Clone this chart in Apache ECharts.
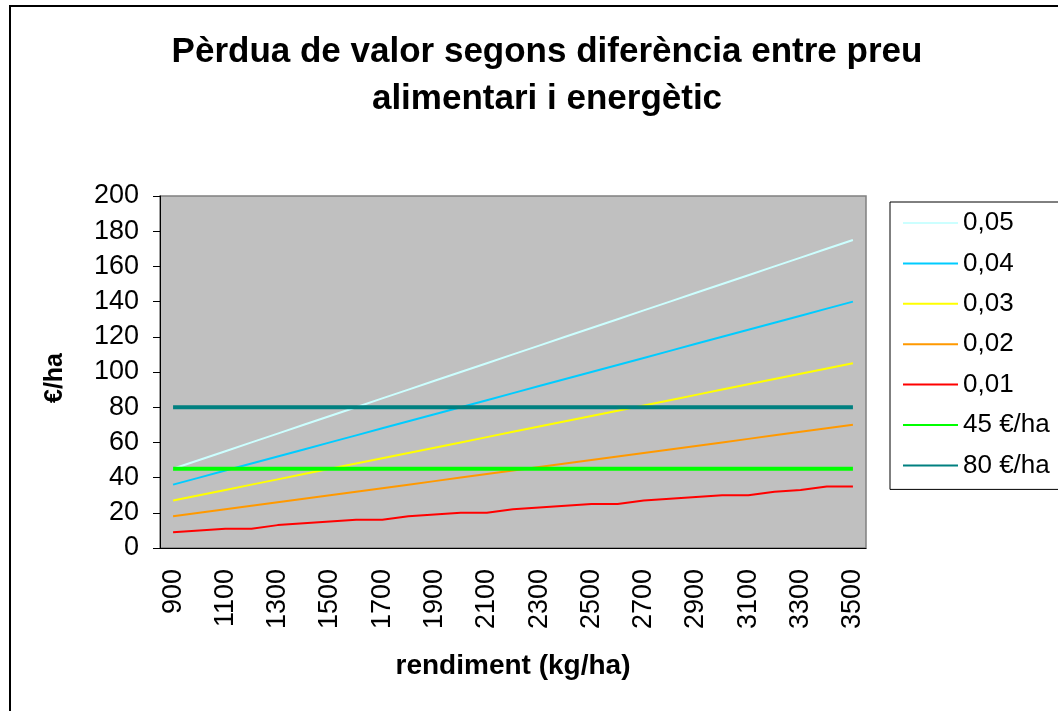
<!DOCTYPE html>
<html>
<head>
<meta charset="utf-8">
<script src="https://cdn.jsdelivr.net/npm/echarts@6/dist/echarts.min.js"></script>
<style>
  html, body { margin: 0; padding: 0; background: #fff; }
  #chart { width: 1058px; height: 711px; }
</style>
</head>
<body>
<div id="chart"></div>
<script>
// rendiment (kg/ha)
var yields = ['900', '1000', '1100', '1200', '1300', '1400', '1500', '1600', '1700', '1800',
  '1900', '2000', '2100', '2200', '2300', '2400', '2500', '2600', '2700', '2800',
  '2900', '3000', '3100', '3200', '3300', '3400', '3500'];

// pèrdua (€/ha) per diferència de preu
var d005 = [45, 50, 55, 60, 65, 70, 75, 80, 85, 90, 95, 100, 105, 110, 115, 120, 125, 130, 135, 140, 145, 150, 155, 160, 165, 170, 175];
var d004 = [36, 40, 44, 48, 52, 56, 60, 64, 68, 72, 76, 80, 84, 88, 92, 96, 100, 104, 108, 112, 116, 120, 124, 128, 132, 136, 140];
var d003 = [27, 30, 33, 36, 39, 42, 45, 48, 51, 54, 57, 60, 63, 66, 69, 72, 75, 78, 81, 84, 87, 90, 93, 96, 99, 102, 105];
var d002 = [18, 20, 22, 24, 26, 28, 30, 32, 34, 36, 38, 40, 42, 44, 46, 48, 50, 52, 54, 56, 58, 60, 62, 64, 66, 68, 70];
var d001 = [9, 10, 11, 11, 13, 14, 15, 16, 16, 18, 19, 20, 20, 22, 23, 24, 25, 25, 27, 28, 29, 30, 30, 32, 33, 35, 35];

// llindars
var ref45 = [45, 45, 45, 45, 45, 45, 45, 45, 45, 45, 45, 45, 45, 45, 45, 45, 45, 45, 45, 45, 45, 45, 45, 45, 45, 45, 45];
var ref80 = [80, 80, 80, 80, 80, 80, 80, 80, 80, 80, 80, 80, 80, 80, 80, 80, 80, 80, 80, 80, 80, 80, 80, 80, 80, 80, 80];

var FONT = '"Liberation Sans", Arial, sans-serif';

var chart = echarts.init(document.getElementById('chart'));

function lineSerie(name, data, color, width) {
  return {
    name: name,
    type: 'line',
    data: data,
    symbol: 'none',
    showSymbol: false,
    silent: true,
    animation: false,
    lineStyle: { color: color, width: width },
    itemStyle: { color: color }
  };
}

chart.setOption({
  backgroundColor: '#fff',
  animation: false,
  title: {
    text: 'Pèrdua de valor segons diferència entre preu\nalimentari i energètic',
    left: 542,
    textAlign: 'center',
    top: 24,
    textStyle: {
      fontFamily: FONT,
      fontWeight: 'bold',
      fontSize: 35,
      lineHeight: 47,
      color: '#000'
    }
  },
  graphic: [{
    type: 'rect',
    shape: { x: 10, y: 6, width: 1100, height: 800 },
    style: { fill: 'none', stroke: '#000', lineWidth: 2 },
    silent: true,
    z: 100
  }],
  legend: {
    orient: 'vertical',
    left: 890,
    top: 202,
    padding: [8, 60, 11, 12],
    itemGap: 14.4,
    itemWidth: 55,
    itemHeight: 14,
    backgroundColor: '#fff',
    borderColor: '#000',
    borderWidth: 1,
    itemStyle: { opacity: 0 },
    textStyle: { fontFamily: FONT, fontSize: 26, color: '#000' },
    data: ['0,05', '0,04', '0,03', '0,02', '0,01', '45 €/ha', '80 €/ha']
  },
  grid: {
    left: 160,
    top: 196,
    right: 192,
    bottom: 163,
    show: true,
    backgroundColor: '#c0c0c0',
    borderColor: '#808080',
    borderWidth: 1.5
  },
  xAxis: {
    type: 'category',
    data: yields,
    boundaryGap: true,
    name: 'rendiment (kg/ha)',
    nameLocation: 'middle',
    nameGap: 104,
    nameTextStyle: { fontFamily: FONT, fontWeight: 'bold', fontSize: 28, color: '#000' },
    axisLine: { lineStyle: { color: '#000', width: 1 } },
    axisTick: { interval: 0, length: 8, lineStyle: { color: '#000' } },
    axisLabel: {
      interval: 1,
      rotate: 90,
      margin: 21,
      fontFamily: FONT,
      fontSize: 27,
      color: '#000'
    },
    splitLine: { show: false }
  },
  yAxis: {
    type: 'value',
    min: 0,
    max: 200,
    interval: 20,
    name: '€/ha',
    nameLocation: 'middle',
    nameGap: 92,
    nameRotate: 90,
    nameTextStyle: { fontFamily: FONT, fontWeight: 'bold', fontSize: 25, color: '#000', padding: [0, 12, 0, 0] },
    axisLine: { show: true, lineStyle: { color: '#000', width: 1 } },
    axisTick: { show: true, length: 7, lineStyle: { color: '#000' } },
    axisLabel: { margin: 21, fontFamily: FONT, fontSize: 27, color: '#000' },
    splitLine: { show: false }
  },
  series: [
    lineSerie('0,05', d005, '#ccffff', 2),
    lineSerie('0,04', d004, '#00ccff', 2),
    lineSerie('0,03', d003, '#ffff00', 2),
    lineSerie('0,02', d002, '#ff9900', 2),
    lineSerie('0,01', d001, '#ff0000', 2),
    lineSerie('45 €/ha', ref45, '#00ff00', 4),
    lineSerie('80 €/ha', ref80, '#008080', 4)
  ]
});
</script>
</body>
</html>
